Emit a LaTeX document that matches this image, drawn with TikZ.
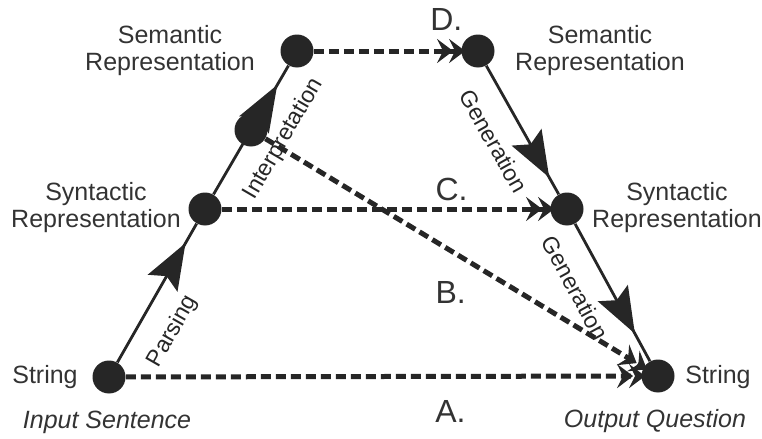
\documentclass[tikz,border=0pt]{standalone}
\usepackage{fontspec}
\setmainfont{Liberation Sans}
\usetikzlibrary{arrows.meta, decorations.markings}
\definecolor{inkdark}{HTML}{262626}
\definecolor{txtgray}{HTML}{333333}

\begin{document}
\begin{tikzpicture}[x=0.5pt, y=-0.5pt, text=txtgray,
    font=\fontsize{12.5}{13.5}\selectfont,
    dot/.style={circle, fill=inkdark, minimum size=16.5pt, inner sep=0pt},
    flow/.style={draw=inkdark, color=inkdark, line width=1.4pt, postaction={decorate},
      decoration={markings, mark=at position #1 with
        {\arrow{Stealth[length=23pt, width=17pt, inset=4pt]}}}},
    jump/.style={draw=inkdark, line width=2.5pt, dash pattern=on 5pt off 2.5pt,
      -{Stealth[length=8pt, width=12pt, inset=3pt, sep=-2pt]Stealth[length=8pt, width=12pt, inset=3pt, sep=-2pt]}},
    lbl/.style={sloped, below=7pt, font=\fontsize{11.5}{13}\selectfont},
    tag/.style={font=\fontsize{16}{18}\selectfont, inner sep=3pt}]
  \useasboundingbox (0,0) rectangle (762,439);
  % ---- input side ----
  \node[dot] (str1) at (109,377) {};
  \node[dot] (syn1) at (205,209) {};
  \node[dot] (mid1) at (251,130) {};
  \node[dot] (sem1) at (297,51)  {};
  \node[align=center] (sem1txt) at (170,51)  {Semantic\\Representation};
  \node[align=center] (syn1txt) at (96,208)  {Syntactic\\Representation};
  \node (str1txt) at (45,377) {String};
  \node (intxt) at (107,422) {\itshape Input Sentence};
  % ---- output side ----
  \node[dot] (sem2) at (478,51)  {};
  \node[dot] (syn2) at (567,209) {};
  \node[dot] (str2) at (658,376) {};
  \node[align=center] (sem2txt) at (600,51)  {Semantic\\Representation};
  \node[align=center] (syn2txt) at (677,208) {Syntactic\\Representation};
  \node (str2txt) at (718,377) {String};
  \node (outtxt) at (655,421) {\itshape Output Question};
  % ---- analysis and generation ----
  \draw[flow=0.86] (str1) -- node[lbl, pos=0.34] {Parsing} (syn1);
  \draw[flow=0.85] (syn1) -- node[lbl, pos=0.56] {Interpretation} (sem1);
  \draw[flow=0.87] (sem2) -- node[lbl, pos=0.47] {Generation} (syn2);
  \draw[flow=0.80] (syn2) -- node[lbl, pos=0.36] {Generation} (str2);
  % ---- transfer levels ----
  \draw[jump] (str1) -- node[tag, below=8pt, pos=0.63] {A.} (str2);
  \draw[jump] (mid1) -- node[tag, below=11pt, pos=0.49] {B.} (str2);
  \draw[jump] (syn1) -- node[tag, above, pos=0.70] {C.} (syn2);
  \draw[jump] (sem1) -- node[tag, above=6pt, pos=0.90] {D.} (sem2);
\end{tikzpicture}
\end{document}
